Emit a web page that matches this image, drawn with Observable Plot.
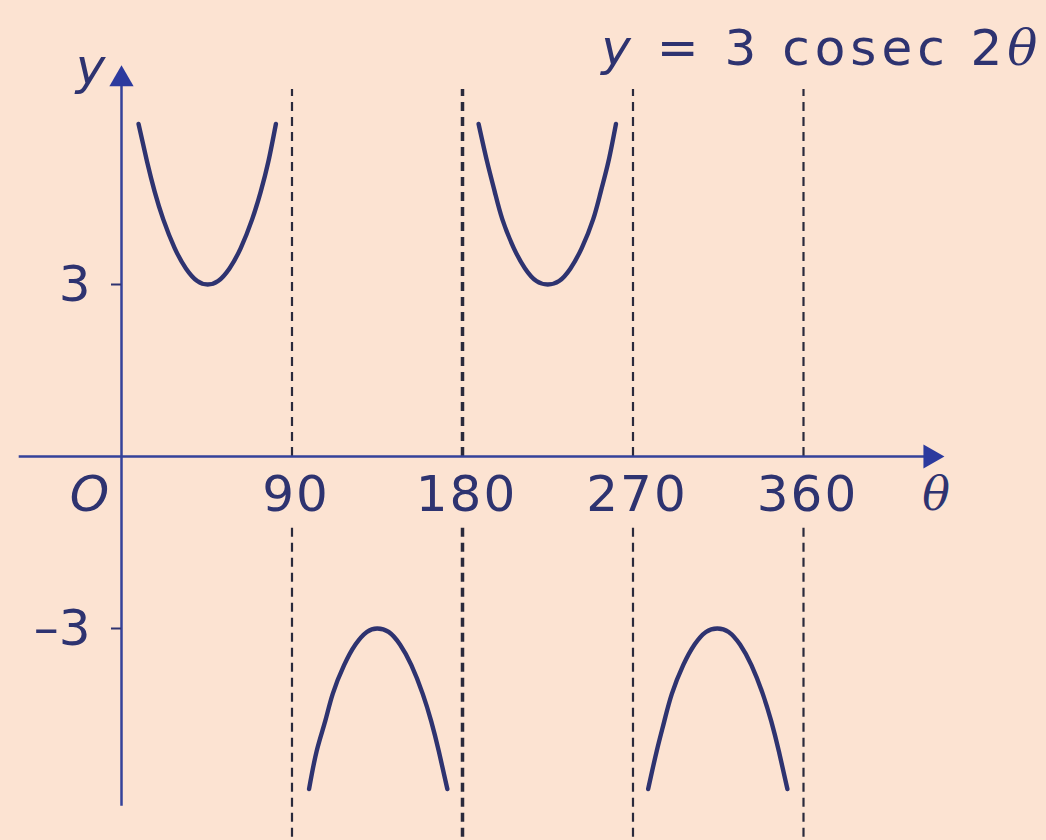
<!DOCTYPE html>
<html>
<head>
<meta charset="utf-8">
<script src="https://cdn.jsdelivr.net/npm/d3@7"></script>
<script src="https://cdn.jsdelivr.net/npm/@observablehq/plot@0.6"></script>
<style>
  html, body { margin: 0; padding: 0; background: #fce3d2; }
</style>
</head>
<body>
<div id="chart"></div>
<script>
// Tick values along each axis
const xTicks = [90, 180, 270, 360];
const yTicks = [-3, 3];

// Vertical asymptotes of y = 3 cosec 2θ
const asymptotes = [90, 180, 270, 360];

// Branch 1: 0° < θ < 90° (upper U)
const branch1Theta = [9, 13.5, 17.5, 22, 28, 34, 40, 45.5, 51, 57, 63, 69, 73.5, 77.5, 81.5];
const branch1Y     = [5.8, 5.14, 4.62, 4.14, 3.64, 3.28, 3.06, 3, 3.06, 3.28, 3.64, 4.14, 4.62, 5.14, 5.8];

// Branch 2: 90° < θ < 180° (lower ∩)
const branch2Theta = [99, 103, 107.5, 111.5, 117.5, 123.5, 129.5, 135, 141, 147, 153, 159, 163.5, 167.5, 172];
const branch2Y     = [-5.8, -5.14, -4.62, -4.14, -3.64, -3.28, -3.06, -3, -3.06, -3.28, -3.64, -4.14, -4.62, -5.14, -5.8];

// Branch 3: 180° < θ < 270° (upper U)
const branch3Theta = [188.5, 193, 197, 201, 207, 213, 219, 225, 231, 237, 243, 249, 253, 257, 261];
const branch3Y     = [5.8, 5.14, 4.62, 4.14, 3.64, 3.28, 3.06, 3, 3.06, 3.28, 3.64, 4.14, 4.62, 5.14, 5.8];

// Branch 4: 270° < θ < 360° (lower ∩)
const branch4Theta = [278, 282.5, 286.5, 290.5, 296.5, 302.5, 308.5, 314.5, 320.5, 326.5, 332.5, 338.5, 343, 347, 351.5];
const branch4Y     = [-5.8, -5.14, -4.62, -4.14, -3.64, -3.28, -3.06, -3, -3.06, -3.28, -3.64, -4.14, -4.62, -5.14, -5.8];

// Extent of the drawn axis lines (data units), arrow heads sit at the far ends
const xAxisExtent = [-54, 427];
const yAxisExtent = [-6.1, 6.58];

const branches = [
  [branch1Theta, branch1Y],
  [branch2Theta, branch2Y],
  [branch3Theta, branch3Y],
  [branch4Theta, branch4Y]
];
const curvePoints = branches.flatMap(([ts, ys], i) =>
  ts.map((t, j) => ({branch: i + 1, theta: t, y: ys[j]}))
);

const ink = "#2e3370";
const axisBlue = "#34429a";
const dashInk = "#2a2a3c";
const equation = "y = 3 cosec 2θ";

const chart = Plot.plot({
  width: 1046,
  height: 840,
  marginLeft: 121,
  marginRight: 243,
  marginTop: 284,
  marginBottom: 212,
  x: {domain: [0, 360], axis: null},
  y: {domain: [-3, 3]},
  style: {background: "#fce3d2", fontFamily: "DejaVu Sans", overflow: "visible"},
  marks: [
    // dashed asymptotes, broken around the θ tick labels
    Plot.ruleX(asymptotes, {
      x: d => d, y1: 0, y2: 6.4,
      stroke: dashInk, strokeWidth: d => (d === 180 ? 3.5 : 2.2),
      strokeDasharray: "9,6"
    }),
    Plot.ruleX(asymptotes, {
      x: d => d, y1: -1.25, y2: -6.8,
      stroke: dashInk, strokeWidth: d => (d === 180 ? 3.5 : 2.2),
      strokeDasharray: "9,6"
    }),
    // axes
    Plot.ruleY([0], {x1: xAxisExtent[0], x2: xAxisExtent[1], stroke: axisBlue, strokeWidth: 2.5}),
    Plot.ruleX([0], {y1: yAxisExtent[0], y2: yAxisExtent[1], stroke: axisBlue, strokeWidth: 2.5}),
    Plot.dot([xAxisExtent[1]], {x: d => d, y: 0, symbol: "triangle", r: 9, rotate: 90, fill: "#2c3a9e", stroke: null}),
    Plot.dot([yAxisExtent[1]], {x: 0, y: d => d, symbol: "triangle", r: 9, fill: "#2c3a9e", stroke: null}),
    // curve branches
    Plot.line(curvePoints, {
      x: "theta", y: "y", z: "branch",
      stroke: ink, strokeWidth: 4.4, curve: "natural"
    }),
    // y ticks and labels
    Plot.axisY({
      ticks: yTicks, tickSize: 10, tickPadding: 21, fontSize: 50,
      color: ink, strokeWidth: 2, label: null,
      tickFormat: d => (d < 0 ? "–" + (-d) : String(d))
    }),
    // θ tick labels
    Plot.text(xTicks, {
      x: d => d, y: 0, dx: 4, dy: 38, text: d => String(d),
      fontSize: 50, fill: ink
    }),
    Plot.text(["O"], {x: 0, y: 0, dx: -32, dy: 38, text: d => d, fontSize: 50, fontStyle: "italic", fill: ink}),
    // axis names
    Plot.text(["θ"], {x: 430, y: 0, dy: 39, text: d => d, fontSize: 46, fontStyle: "italic", fontFamily: "DejaVu Serif", fill: ink}),
    Plot.text(["y"], {x: 0, y: 6.77, dx: -31, text: d => d, fontSize: 50, fontStyle: "italic", fill: ink}),
    // equation
    Plot.text([equation], {
      x: 483.5, y: 7.11, dx: 5, text: d => d, textAnchor: "end",
      fontSize: 50, fill: ink
    })
  ]
});

// spacing and mixed styles for the text
const svg = d3.select(chart);
const tickStrings = new Set(xTicks.map(String));
svg.selectAll("text")
  .filter(function () { return tickStrings.has(this.textContent); })
  .style("letter-spacing", "2px");
const eq = svg.selectAll("text").filter(function () { return this.textContent === equation; });
eq.style("letter-spacing", "5px").text(null);
eq.append("tspan").attr("font-style", "italic").text("y");
eq.append("tspan").text(" = 3 cosec 2");
eq.append("tspan").attr("font-style", "italic").attr("font-family", "DejaVu Serif").text("θ");

document.getElementById("chart").append(chart);
</script>
</body>
</html>
